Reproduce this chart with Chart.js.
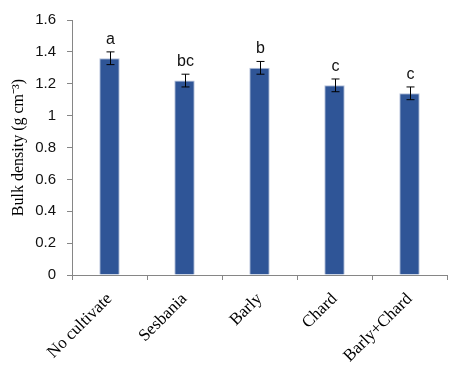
<!DOCTYPE html>
<html>
<head>
<meta charset="utf-8">
<script src="https://cdn.jsdelivr.net/npm/chart.js@4.4.0/dist/chart.umd.min.js"></script>
<style>
  html, body { margin: 0; padding: 0; background: #fff; }
  #wrap { width: 452px; height: 369px; }
</style>
</head>
<body>
<div id="wrap"><canvas id="bdChart"></canvas></div>
<script>
// Daten
const treatments = ['No cultivate', 'Sesbania', 'Barly', 'Chard', 'Barly+Chard'];
const bulkDensity = [1.36, 1.22, 1.30, 1.19, 1.14];
const errors = [0.04, 0.04, 0.04, 0.04, 0.04];
const letters = ['a', 'bc', 'b', 'c', 'c'];

const axisGray = '#868686';

// Fehlerbalken und Buchstaben ueber den Balken zeichnen
const errorBarPlugin = {
  id: 'errorBars',
  afterDatasetsDraw(chart) {
    const ctx = chart.ctx;
    const xs = chart.scales.x;
    const ys = chart.scales.y;
    ctx.save();
    ctx.strokeStyle = '#000';
    ctx.lineWidth = 1;
    bulkDensity.forEach((v, i) => {
      let x = Math.round(xs.getPixelForValue(i)) + 0.5;
      let yTop = ys.getPixelForValue(v + errors[i]);
      let yBot = ys.getPixelForValue(v - errors[i]);
      ctx.beginPath();
      ctx.moveTo(x, yTop);
      ctx.lineTo(x, yBot);
      ctx.moveTo(x - 4, yTop);
      ctx.lineTo(x + 4, yTop);
      ctx.moveTo(x - 4, yBot);
      ctx.lineTo(x + 4, yBot);
      ctx.stroke();

      ctx.fillStyle = '#111';
      ctx.font = '16px "Liberation Sans"';
      ctx.textAlign = 'center';
      ctx.textBaseline = 'alphabetic';
      ctx.fillText(letters[i], x, yTop - 8);
    });
    ctx.restore();
  }
};

const config = {
  type: 'bar',
  data: {
    labels: treatments,
    datasets: [{
      data: bulkDensity,
      backgroundColor: '#2F5597',
      borderColor: '#B4C0DA',
      borderWidth: 1,
      barPercentage: 0.8,
      categoryPercentage: 0.34
    }]
  },
  options: {
    responsive: true,
    maintainAspectRatio: false,
    animation: false,
    layout: { padding: { top: 17, right: 5, left: 0, bottom: 0 } },
    plugins: {
      legend: { display: false },
      tooltip: { enabled: false }
    },
    scales: {
      x: {
        afterFit(scale) { scale.height = 94; },
        grid: {
          drawOnChartArea: false,
          offset: true,
          tickLength: 5,
          color: axisGray
        },
        border: { color: axisGray },
        ticks: {
          color: '#000',
          font: { family: 'Liberation Serif', size: 17 },
          minRotation: 45,
          maxRotation: 45,
          padding: 9
        }
      },
      y: {
        min: 0,
        max: 1.6,
        afterFit(scale) { scale.width = 72; },
        grid: {
          drawOnChartArea: false,
          tickLength: 5,
          color: axisGray
        },
        border: { color: axisGray },
        ticks: {
          stepSize: 0.2,
          color: '#111',
          font: { family: 'Liberation Sans', size: 15 },
          padding: 11,
          callback: v => +v.toFixed(1)
        },
        title: {
          display: true,
          text: 'Bulk density (g cm⁻³)',
          color: '#000',
          font: { family: 'Liberation Serif', size: 16 },
          padding: { top: 9, bottom: 0 }
        }
      }
    }
  },
  plugins: [errorBarPlugin]
};

let bdCanvas = document.getElementById('bdChart');
new Chart(bdCanvas, config);
</script>
</body>
</html>
